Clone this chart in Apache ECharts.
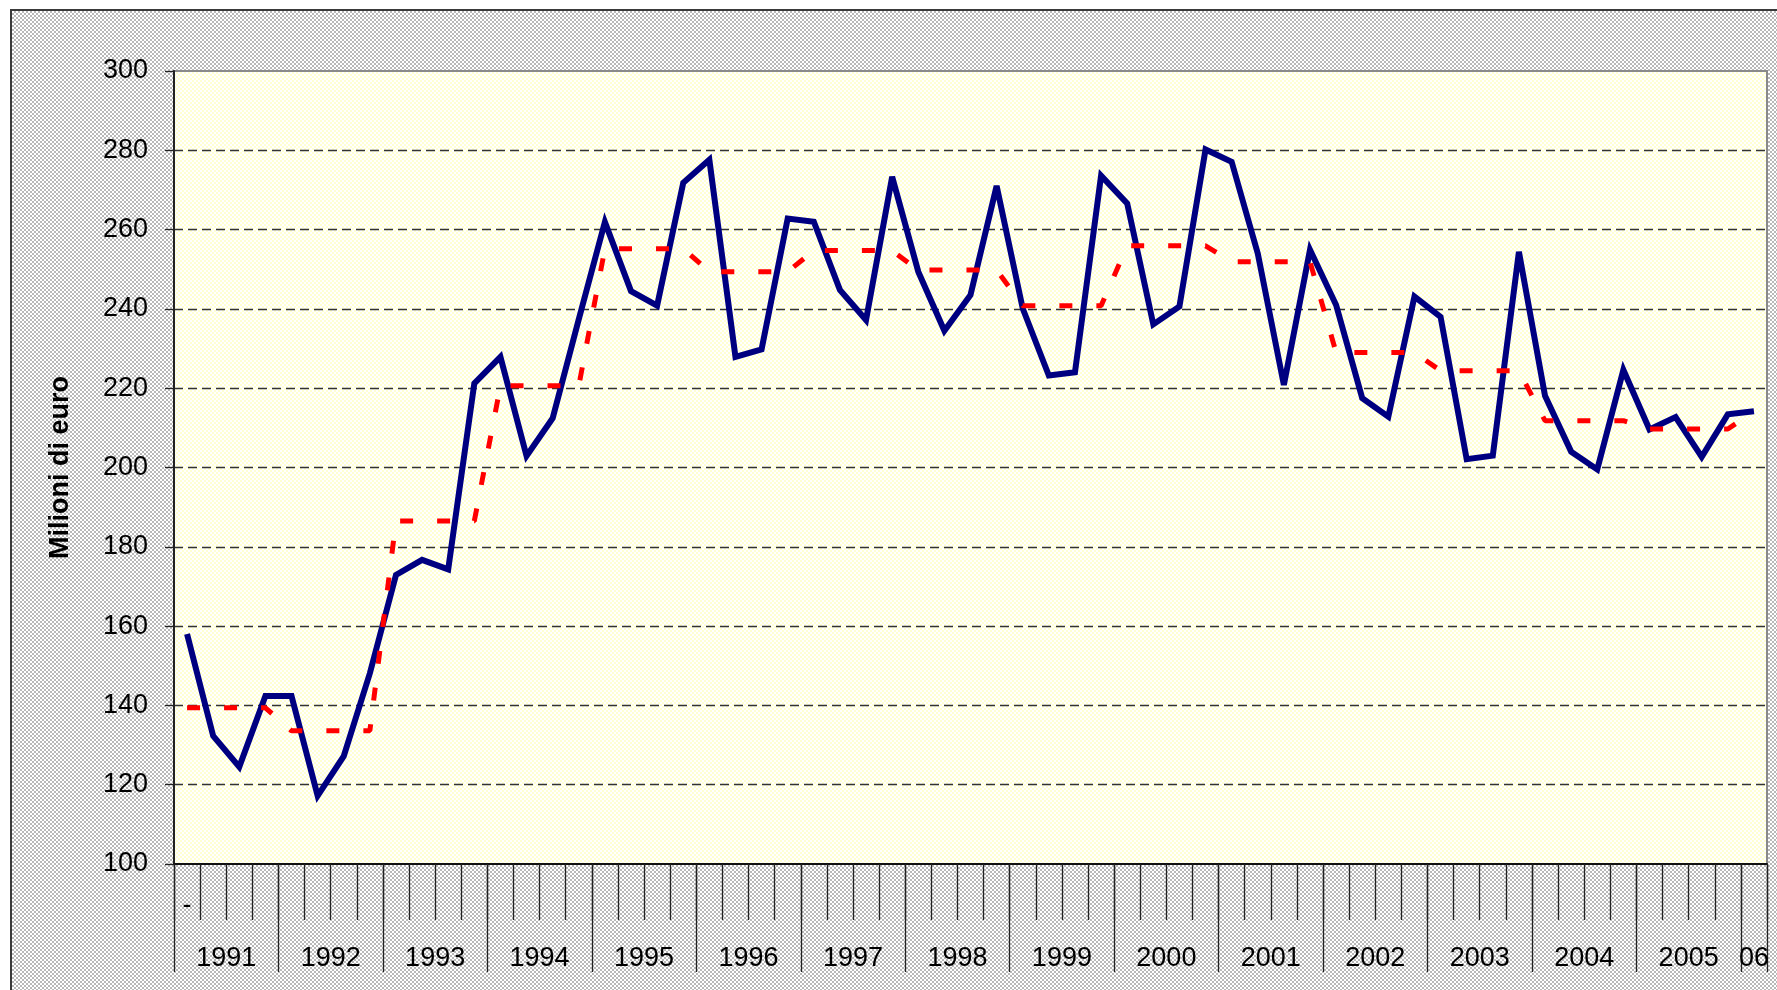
<!DOCTYPE html>
<html>
<head>
<meta charset="utf-8">
<title>Milioni di euro</title>
<script src="https://cdn.jsdelivr.net/npm/echarts@6/dist/echarts.min.js"></script>
<style>
  html, body { margin: 0; padding: 0; background: #fff; overflow: hidden; }
  #frame { position: absolute; left: 10px; top: 9px; width: 1800px; height: 1000px;
    border-top: 2px solid #3a3a3a; border-left: 2px solid #3a3a3a;
    background: repeating-conic-gradient(#b8b8b8 0 25%, #ffffff 0 50%) 0 0 / 4px 4px; }
  #main { position: absolute; left: 0; top: 0; width: 1777px; height: 990px; }
</style>
</head>
<body>
<div id="frame"></div>
<div id="main"></div>
<script type="text/javascript">
    // anni e trimestri
    var years = [1991, 1992, 1993, 1994, 1995, 1996, 1997, 1998, 1999, 2000, 2001, 2002, 2003, 2004, 2005, 2006];
    var yearLabels = ['1991', '1992', '1993', '1994', '1995', '1996', '1997', '1998', '1999', '2000',
                      '2001', '2002', '2003', '2004', '2005', '06'];
    var quarters = [];
    for (var y = 0; y < years.length; y++) {
        for (var q = 1; q <= 4; q++) {
            if (years[y] === 2006 && q > 1) break;
            quarters.push(years[y] + ' T' + q);
        }
    }

    // valori trimestrali (milioni di euro)
    var trimestrale = [
        158.0, 132.3, 124.5, 142.4,
        142.4, 117.2, 127.2, 148.1,
        172.9, 176.7, 174.3, 221.2,
        227.9, 202.9, 212.4, 237.4,
        261.9, 244.5, 240.8, 271.8,
        277.6, 227.9, 229.8, 262.8,
        262.0, 244.8, 237.2, 273.3,
        249.4, 234.5, 243.5, 271.0,
        240.1, 223.2, 224.0, 273.6,
        266.6, 236.1, 240.6, 280.2,
        277.1, 254.0, 220.8, 254.9,
        241.0, 217.5, 212.8, 243.1,
        238.0, 202.1, 203.0, 254.4,
        218.1, 204.0, 199.5, 224.6,
        209.6, 212.7, 202.7, 213.4,
        214.2
    ];

    // media annua, ripetuta sui trimestri
    var mediaAnnua = [
        139.4, 139.4, 139.4, 139.4,
        133.6, 133.6, 133.6, 133.6,
        186.5, 186.5, 186.5, 186.5,
        220.6, 220.6, 220.6, 220.6,
        255.2, 255.2, 255.2, 255.2,
        249.4, 249.4, 249.4, 249.4,
        254.7, 254.7, 254.7, 254.7,
        249.8, 249.8, 249.8, 249.8,
        240.8, 240.8, 240.8, 240.8,
        255.9, 255.9, 255.9, 255.9,
        251.9, 251.9, 251.9, 251.9,
        229.0, 229.0, 229.0, 229.0,
        224.4, 224.4, 224.4, 224.4,
        211.8, 211.8, 211.8, 211.8,
        209.7, 209.7, 209.7, 209.7,
        214.2
    ];

    var FONT = "'Liberation Sans', Arial, sans-serif";
    var nQ = quarters.length;

    // trama puntinata dell'area del grafico
    var tile = document.createElement('canvas');
    tile.width = 4; tile.height = 4;
    var g = tile.getContext('2d');
    g.fillStyle = '#ffffff'; g.fillRect(0, 0, 4, 4);
    g.fillStyle = '#ffffd2'; g.fillRect(0, 0, 2, 2); g.fillRect(2, 2, 2, 2);

    function yearLabel(v) {
        for (var k = 0; k < yearLabels.length; k++) {
            var start = 4 * k, end = Math.min(4 * k + 4, nQ);
            if (Math.abs(v - (start + end) / 2) < 1e-6) return yearLabels[k];
        }
        return '';
    }

    var rect = { left: 174, top: 71, right: 10, bottom: 126, outerBoundsMode: 'none' };

    var myChart = echarts.init(document.getElementById('main'));
    var option = {
        animation: false,
        grid: [
            Object.assign({ show: true, backgroundColor: { image: tile, repeat: 'repeat' },
                            borderColor: '#8a8a8a', borderWidth: 2 }, rect),
            Object.assign({ show: false }, rect),
            Object.assign({ show: false }, rect)
        ],
        xAxis: [
            {
                gridIndex: 0,
                type: 'category',
                data: quarters,
                boundaryGap: true,
                axisLine: { show: true, lineStyle: { color: '#111', width: 2 } },
                axisTick: { show: true, interval: 0, length: 56, lineStyle: { color: '#222', width: 1.3 } },
                axisLabel: {
                    interval: 0, margin: 28, fontSize: 27, color: '#000', fontFamily: FONT,
                    formatter: function (v, i) { return i === 0 ? '-' : ''; }
                },
                splitLine: { show: false }
            },
            {
                gridIndex: 1,
                type: 'value',
                min: 0, max: nQ, interval: 4,
                axisLine: { show: false },
                axisTick: { show: true, length: 108, lineStyle: { color: '#222', width: 1.3 } },
                axisLabel: { show: false },
                splitLine: { show: false }
            },
            {
                gridIndex: 2,
                type: 'value',
                min: 0, max: nQ, interval: 0.5,
                axisLine: { show: false },
                axisTick: { show: false },
                axisLabel: { margin: 81, fontSize: 27, color: '#000', fontFamily: FONT, formatter: yearLabel },
                splitLine: { show: false }
            }
        ],
        yAxis: [
            {
                gridIndex: 0,
                type: 'value',
                min: 100, max: 300, interval: 20,
                name: 'Milioni di euro',
                nameLocation: 'middle',
                nameRotate: 90,
                nameGap: 100,
                nameTextStyle: { fontSize: 27, fontWeight: 'bold', color: '#000', fontFamily: FONT },
                axisLine: { show: true, lineStyle: { color: '#222', width: 2 } },
                axisTick: { show: true, length: 9, lineStyle: { color: '#222', width: 1.3 } },
                axisLabel: { margin: 26, fontSize: 27, color: '#000', fontFamily: FONT },
                splitLine: { show: true, showMinLine: false, showMaxLine: false,
                             lineStyle: { color: '#333', width: 1.3, type: [9, 5] } }
            },
            { gridIndex: 1, type: 'value', show: false, min: 0, max: 1 },
            { gridIndex: 2, type: 'value', show: false, min: 0, max: 1 }
        ],
        series: [
            {
                name: 'Trimestrale',
                type: 'line',
                xAxisIndex: 0, yAxisIndex: 0,
                data: trimestrale,
                symbol: 'none',
                itemStyle: { color: '#000080' },
                lineStyle: { color: '#000080', width: 6, join: 'miter', miterLimit: 4 }
            },
            {
                name: 'Media annua',
                type: 'line',
                xAxisIndex: 0, yAxisIndex: 0,
                data: mediaAnnua,
                symbol: 'none',
                itemStyle: { color: '#ff0000' },
                lineStyle: { color: '#ff0000', width: 5, type: [13, 24], cap: 'butt' }
            }
        ]
    };
    myChart.setOption(option);
</script>
</body>
</html>
